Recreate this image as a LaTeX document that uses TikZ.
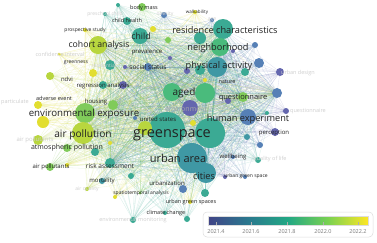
\documentclass[tikz,border=0pt]{standalone}
\usepackage{fontspec}
\setmainfont{Open Sans}
\usepackage{xcolor}
\usetikzlibrary{backgrounds}
\definecolor{OvPurple}{HTML}{6466AE}
\definecolor{OvBlue}{HTML}{5680B6}
\definecolor{OvSea}{HTML}{3F98A4}
\definecolor{OvTeal}{HTML}{3BAA94}
\definecolor{OvMint}{HTML}{4ABB7C}
\definecolor{OvGreen}{HTML}{80CB5A}
\definecolor{OvLime}{HTML}{B8D63E}
\definecolor{OvYellow}{HTML}{E2DE30}
\definecolor{OvInk}{HTML}{222222}
\definecolor{OvFaint}{HTML}{CFCFCF}
\definecolor{OvMid}{HTML}{A8A8A8}
\definecolor{OvFrame}{HTML}{DDDDDD}
\definecolor{OvTick}{HTML}{7A7A7A}
\definecolor{VirA}{HTML}{414487}
\definecolor{VirB}{HTML}{2A788E}
\definecolor{VirC}{HTML}{22A884}
\definecolor{VirD}{HTML}{7AD151}
\definecolor{VirE}{HTML}{FDE725}
\pgfdeclarehorizontalshading{overlayscale}{100bp}{color(0bp)=(VirA); color(25bp)=(VirA);
  color(37.5bp)=(VirB); color(50bp)=(VirC); color(62.5bp)=(VirD); color(75bp)=(VirE); color(100bp)=(VirE)}
\newcommand\kwsize[1]{\fontsize{#1}{#1}\selectfont}
% keyword circles: name/x/y/radius/colour
\newcommand\kwlist{gs/167/130/18/OvTeal, gsb/210/133/15/OvTeal, ua/192/158/15/OvSea,
  ci/206/173/10/OvSea, ag/205/93/10/OvMint, agb/172/92/9/OvMint, env/190/108/8/OvPurple,
  hx/248/117/8/OvBlue, us/145/128/7/OvLime, usb/135/118/2/OvBlue, gy/193/123/3/OvYellow,
  rc/223/29/10/OvTeal, rcb/200/38/6/OvTeal, nb/220/47/9/OvMint, pa/217/67/10/OvSea,
  pab/245/72/4/OvTeal, pac/200/70/5/OvTeal, ch/140/36/8/OvTeal, chb/168/40/3/OvGreen,
  pv/153/29/3/OvYellow, pvb/170/58/2/OvPurple, ca/98/45/9/OvLime, ee/85/113/10/OvGreen,
  eeb/43/122/6/OvYellow, ap/83/133/11/OvLime, apb/38/140/5/OvLime, atm/67/148/4/OvGreen,
  atmb/95/152/4/OvTeal, hs/113/105/5/OvGreen, rg/123/85/4/OvPurple, rgb/103/85/4/OvTeal,
  ndvi/50/76/4/OvLime, gn/93/73/4/OvYellow, ss/148/67/4/OvBlue, ssb/125/67/2/OvPurple,
  ssc/110/65/5/OvTeal, ps/85/30/2/OvYellow, cfi/59/54/1.5/OvYellow, chh/127/21/4/OvTeal,
  pre/105/14/2/OvTeal, bm/142/7/4/OvGreen, bmb/118/5/2/OvTeal, ob/164/15/3/OvBlue,
  wk/195/12/2/OvYellow, age/212/20/2/OvBlue, na/205/80/2/OvYellow, nab/187/71/3/OvPurple,
  nac/233/51/2/OvPurple, qn/243/97/5/OvGreen, qnb/228/101/3/OvPurple, psy/277/93/5/OvBlue,
  ud/280/72/4/OvPurple, bl/259/63/5/OvBlue, blb/255/45/3/OvBlue, fq/286/111/3/OvPurple,
  tq/267/113/2/OvTeal, pc/275/132/4/OvPurple, wbb/247/137/3/OvSea, wbc/260/145/3/OvBlue,
  wb/233/157/2/OvBlue, qol/258/160/3/OvTeal, ugs/225/177/2/OvPurple, ugsb/245/177/2/OvBlue,
  ugss/190/202/2/OvYellow, ta/205/193/4/OvTeal, tb/187/219/3/OvTeal, urb/183/189/4/OvBlue,
  cc/165/213/2/OvTeal, em/133/220/3/OvTeal, st/115/197/2/OvYellow, stb/140/193/1.5/OvGreen,
  mo/102/181/3/OvSea, aq/87/189/2/OvLime, rsk/110/163/5/OvTeal, rskb/131/176/3/OvTeal,
  apl/50/167/4/OvGreen, aplb/67/165/2/OvYellow, adv/38/105/4/OvYellow, nas/110/143/2/OvYellow}
\tikzset{
  kw/.style={circle,inner sep=0pt,draw=none},
  link/.style={line width=0.3pt,opacity=0.2},
  term/.style={inner sep=0pt,text=OvInk},
  faint/.style={term,text=OvFaint},
  legendbox/.style={draw=OvFrame,fill=white,rounded corners=4pt,line width=0.5pt},
  tickmark/.style={draw=OvTick!60,line width=0.4pt},
  ticklabel/.style={inner sep=0pt,text=OvTick,font=\kwsize{5.5}}
}
\begin{document}
\begin{tikzpicture}[x=1pt,y=-1pt]
  \useasboundingbox (0,0) rectangle (377,242);
  \foreach \n/\x/\y/\r/\c in \kwlist
    \node[kw,minimum size={2*\r pt},fill=\c] (\n) at (\x,\y) {};

  % links
  \begin{pgfonlayer}{background}
    \fill[white] (0,0) rectangle (377,242);
    \foreach \h in {gs,gsb,ua,ci,ag,agb,ee,ap,ca,pa,nb,rc,ch,hx,us,hs,ss,rsk,qn,psy}
      \foreach \n/\x/\y/\r/\c in \kwlist
        \draw[link,draw=\c] (\h.center) -- (\n.center);
  \end{pgfonlayer}

  % faded labels
  \foreach \n/\x/\y/\s/\t in {lpre/105/14/5/preschool child, lob/165/14/5/obesity,
    lage/212/20/5/age, lcfi/60/54/5.5/confidence interval, lres/104/66/5/residential,
    lapb/35/140/6/air pollutants, lpsy/260/88/5.5/psychology, lud/298/73/5.5/urban design,
    lfq/308/111/5.5/questionnaire, lqol/270/159/5.5/quality of life,
    laq/87/189/5/air quality, lem/133/220/5.5/environmental monitoring}
    \node[faint,font=\kwsize{\s}] (\n) at (\x,\y) {\t};
  \node[faint,font=\kwsize{5.5},anchor=west] (lpm) at (1,102) {particulate};
  \node[term,text=OvMid,font=\kwsize{7}] (lenv) at (186,109) {environment};

  % labels
  \foreach \n/\x/\y/\s/\t in {lgs/172/135/14.5/greenspace, lua/178/158/11/urban area,
    lrc/225/30/9.2/residence characteristics, lnb/218/48/9.2/neighborhood,
    lpa/219/66/9.2/physical activity, lca/99/45/8.7/cohort analysis, lch/141/36/8.7/child,
    lee/84/114/9.7/environmental exposure, lap/83/135/10.2/air pollution, lag/184/93/10/aged,
    lhx/248/119/9.2/human experiment, lqn/243/98/7.5/questionnaire, lci/204/176/9.2/cities,
    lbm/144/8/5.5/body mass, lchh/127/20/5.5/child health, lps/85/30/5/prospective study,
    lpv/147/52/6/prevalence, lss/148/67/6.5/social status, lgn/76/63/5/greenness,
    lndvi/67/79/6/ndvi, lrg/103/86/6/regression analysis, lhs/96/102/6/housing,
    ladv/54/98/5.5/adverse event, lus/158/119/6/united states,
    latm/67/148/7/atmospheric pollution, lrsk/110/166/6.5/risk assessment,
    lapl/51/167/6/air pollutants, lmo/102/181/6/mortality,
    lst/141/193/5/spatiotemporal analysis, lurb/167/183/6/urbanization,
    lugss/191/202/5.5/urban green spaces, lcc/166/213/5.5/climate change,
    lugs/246/176/5/urban green space, lwb/233/157/6/wellbeing, lpc/274/133/6/perception,
    lna/227/82/5.5/nature, lwk/197/12/4.5/walkability}
    \node[term,font=\kwsize{\s}] (\n) at (\x,\y) {\t};

  % colour scale
  \node[legendbox,minimum width=170pt,minimum height=25pt] (legend) at (288,224.5) {};
  \node[shade,shading=overlayscale,draw=OvFrame,line width=0.3pt,inner sep=0pt,
    minimum width=160pt,minimum height=9pt] (cbar) at (288,220.5) {};
  \foreach \v/\x [count=\i] in {2021.4/216,2021.6/251,2021.8/287,2022.0/323,2022.2/358}{
    \draw[tickmark] (\x,225) -- (\x,221.5);
    \node[ticklabel] (tick\i) at (\x,232) {\v};
  }
\end{tikzpicture}
\end{document}
